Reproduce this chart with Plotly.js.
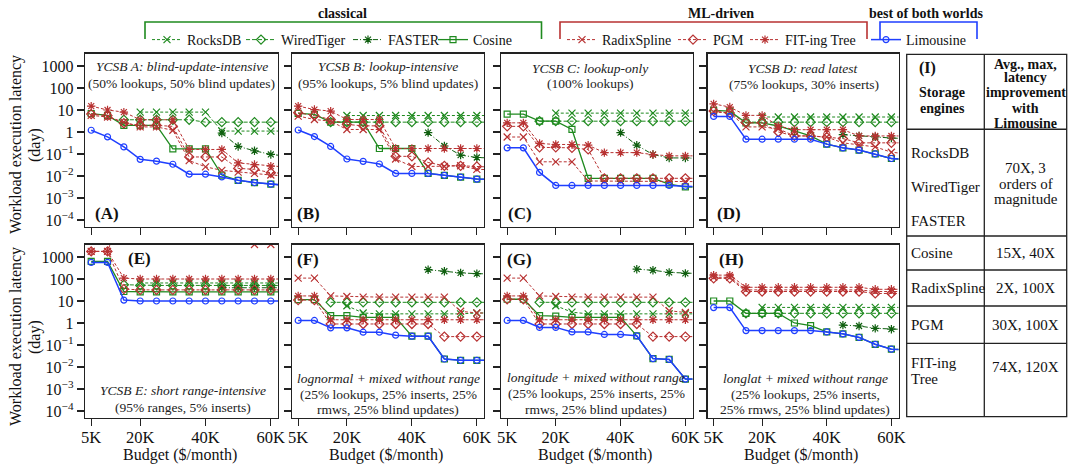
<!DOCTYPE html>
<html><head><meta charset="utf-8">
<script src="https://cdn.plot.ly/plotly-3.0.1.min.js"></script>
<style>html,body{margin:0;padding:0;background:#fff;}#chart{width:1073px;height:464px;}</style>
</head><body><div id="chart"></div>
<script>
// ---------- data ----------
const budgets = [5,10,15,20,25,30,35,40,45,50,55,60,65]; // $K/month
const xTickVals = [5,20,40,60];
const xTickText = ['5K','20K','40K','60K'];
const yTickVals = [1e-4,1e-3,1e-2,1e-1,1,10,100,1000];
const yTickText = ['10<sup>−4</sup>','10<sup>−3</sup>','10<sup>−2</sup>','10<sup>−1</sup>','1','10','100','1000'];
const seriesNames = ['RocksDB','WiredTiger','FASTER','Cosine','RadixSpline','PGM','FIT-ing Tree','Limousine'];

// Panel A
const A_RocksDB     = [null,null,null,8,8,8,8,8,1.1,1.1,1.1,1.1,1.1];
const A_WiredTiger  = [null,null,3.6,3.6,3.6,3.6,3.6,2.8,2.8,2.8,2.8,2.8,2.8];
const A_FASTER      = [null,null,null,null,null,null,null,null,0.9,0.22,0.14,0.095,0.08];
const A_Cosine      = [6.8,5.7,2.0,2.0,2.0,0.17,0.17,0.17,0.011,0.0063,0.005,0.0042,0.0037];
const A_RadixSpline = [5.7,4.8,2.8,1.7,1.7,1.2,0.05,0.026,0.018,0.015,0.013,0.011,0.010];
const A_PGM         = [6.5,5.5,2.5,2.0,2.0,1.8,0.073,0.073,0.073,0.022,0.02,0.014,0.013];
const A_FIT         = [15,10,8,3.6,3.6,3.6,0.16,0.16,0.16,0.039,0.033,0.028,0.025];
const A_Limousine   = [1.2,0.6,0.21,0.057,0.047,0.034,0.012,0.012,0.009,0.0063,0.005,0.0042,0.0037];
// Panel B
const B_RocksDB     = [null,null,null,5.6,5.6,5.6,5.6,5.6,5.6,5.6,5.6,5.6,5.6];
const B_WiredTiger  = [null,null,2.8,2.8,2.8,2.8,2.8,2.8,2.8,2.8,2.8,2.8,2.8];
const B_FASTER      = [null,null,null,null,null,null,null,null,0.93,0.23,0.089,0.069,0.065];
const B_Cosine      = [7,6.3,2.8,2.8,2.8,0.177,0.177,0.177,0.013,0.0107,0.0089,0.0072,0.007];
const B_RadixSpline = [5.3,3.7,3.1,1.3,1.3,1.3,0.059,0.027,0.027,0.027,0.029,0.02,0.019];
const B_PGM         = [7.5,5.6,3.7,2.2,1.9,1.9,0.078,0.078,0.041,0.029,0.029,0.027,0.025];
const B_FIT         = [15,10.5,8.9,3.7,3.7,3.7,0.177,0.177,0.177,0.177,0.177,0.177,0.177];
const B_Limousine   = [1.23,0.62,0.22,0.059,0.046,0.035,0.013,0.013,0.013,0.0107,0.0089,0.0072,0.007];
// Panel C
const C_RocksDB     = [null,null,null,7.2,7.2,7.2,7.2,7.2,7.2,7.2,7.2,7.2,7.2];
const C_WiredTiger  = [null,null,3.1,3.1,3.1,3.1,3.1,3.1,3.1,3.1,3.1,3.1,3.1];
const C_FASTER      = [null,null,null,null,null,null,null,0.93,0.25,0.094,0.066,0.066,0.062];
const C_Cosine      = [6.5,6.5,3.1,3.1,1.3,0.0078,0.0078,0.0078,0.0078,0.0078,0.0042,0.0032,0.003];
const C_RadixSpline = [0.59,0.59,0.044,0.044,0.044,0.0059,0.0059,0.0059,0.0059,0.0059,0.0059,0.0055,0.0055];
const C_PGM         = [1.8,1.8,0.2,0.2,0.19,0.16,0.0078,0.0078,0.0078,0.0078,0.0078,0.0078,0.0078];
const C_FIT         = [2.6,2.6,0.3,0.27,0.27,0.25,0.115,0.115,0.115,0.094,0.082,0.082,0.082];
const C_Limousine   = [0.19,0.19,0.0145,0.0037,0.0037,0.0037,0.0037,0.0037,0.0037,0.0037,0.0037,0.0034,0.0032];
// Panel D
const D_RocksDB     = [null,null,null,4.8,4.8,4.8,4.8,4.8,4.8,4.8,4.8,4.8,4.8];
const D_WiredTiger  = [null,null,2.8,2.8,2.8,2.8,2.8,2.8,2.8,2.8,2.8,2.8,2.8];
const D_FASTER      = [null,null,null,null,null,null,null,null,0.76,0.66,0.6,0.53,0.5];
const D_Cosine      = [9.6,8.9,2.6,2.6,1.87,1.07,0.66,0.28,0.19,0.15,0.1,0.062,0.056];
const D_RadixSpline = [8.1,7.3,1.7,1.7,1.4,0.66,0.66,0.59,0.32,0.25,0.21,0.12,0.1];
const D_PGM         = [9,7.3,2.6,2.6,1.0,0.66,0.66,0.59,0.5,0.32,0.32,0.32,0.32];
const D_FIT         = [19,13.6,5.7,5.7,1.87,1.27,1.27,1.27,1.27,0.66,0.66,0.66,0.66];
const D_Limousine   = [5.1,5.1,0.47,0.47,0.47,0.47,0.47,0.28,0.19,0.15,0.1,0.062,0.056];
// Panel E
const E_RocksDB     = [null,null,null,66,66,66,66,66,66,66,66,66,66];
const E_WiredTiger  = [null,null,55,51,51,51,51,51,51,51,51,51,51];
const E_FASTER      = [null,null,null,null,null,null,null,null,40,40,40,40,40];
const E_Cosine      = [630,630,27,26,26,26,26,26,26,26,26,26,26];
const E_RadixSpline = [1800,1800,2e5,2e5,2e5,2e5,2e5,2e5,2e5,2e5,3700,3700,3700];
const E_PGM         = [1800,1800,35,32,32,32,32,32,32,32,32,32,32];
const E_FIT         = [1800,1800,110,100,100,100,100,100,100,100,100,100,100];
const E_Limousine   = [570,570,11,10,10,10,10,10,10,10,10,10,10];
// Panel F
const F_RocksDB     = [null,null,null,6.1,2.85,2.6,2.6,2.6,2.6,2.6,2.6,2.85,2.85];
const F_WiredTiger  = [null,null,8.7,8.7,8.7,8.7,8.7,8.7,8.7,8.7,8.7,8.7,8.7];
const F_FASTER      = [null,null,null,null,null,null,null,null,265,225,190,175,170];
const F_Cosine      = [11.5,11.5,2.15,2.15,1.8,1.8,1.8,0.25,0.25,0.023,0.02,0.02,0.02];
const F_RadixSpline = [110,110,17,16,15,15,15,15,15,15,3.4,2.85,2.8];
const F_PGM         = [11,11,0.9,0.9,0.9,0.9,0.9,0.9,0.9,0.24,0.24,0.24,0.24];
const F_FIT         = [17,17,1.4,1.4,1.4,1.4,1.4,1.4,1.4,1.4,1.4,1.4,1.4];
const F_Limousine   = [1.3,1.3,0.6,0.6,0.38,0.38,0.28,0.25,0.25,0.023,0.02,0.02,0.02];
// Panel G
const G_RocksDB     = [null,null,null,6.1,3.1,2.6,2.6,2.6,2.6,2.6,2.6,2.6,2.6];
const G_WiredTiger  = [null,null,8.7,8.7,8.7,8.7,8.7,8.7,8.7,8.7,8.7,8.7,8.7];
const G_FASTER      = [null,null,null,null,null,null,null,null,280,250,200,180,175];
const G_Cosine      = [12,12,2.15,2.05,1.8,1.8,1.8,1.8,0.26,0.024,0.022,0.0028,0.0028];
const G_RadixSpline = [110,110,17,16,15,15,15,15,15,15,3.6,3.0,3.0];
const G_PGM         = [12,12,0.9,0.9,0.9,0.9,0.9,0.9,0.9,0.24,0.24,0.24,0.24];
const G_FIT         = [17,17,1.4,1.4,1.4,1.4,1.4,1.4,1.4,1.4,1.4,1.4,1.4];
const G_Limousine   = [1.3,1.3,0.63,0.63,0.39,0.39,0.3,0.3,0.26,0.024,0.022,0.0028,0.0028];
// Panel H
const H_RocksDB     = [null,null,null,5.1,5.1,5.1,5.1,5.1,5.1,5.1,5.1,5.1,5.1];
const H_WiredTiger  = [null,null,2.75,2.75,2.75,2.75,2.75,2.75,2.75,2.75,2.75,2.75,2.75];
const H_FASTER      = [null,null,null,null,null,null,null,null,0.8,0.73,0.57,0.52,0.5];
const H_Cosine      = [10,10,2.75,2.75,2.75,1.0,0.76,0.39,0.32,0.22,0.107,0.064,0.06];
const H_RadixSpline = [120,120,32,32,32,32,32,32,32,32,27,27,27];
const H_PGM         = [107,107,27,27,27,27,27,27,27,27,22,22,22];
const H_FIT         = [150,150,42,42,42,42,42,42,42,42,34,34,34];
const H_Limousine   = [5,5,0.45,0.45,0.45,0.45,0.45,0.39,0.32,0.22,0.107,0.064,0.06];

const panelData = {
  A:[A_RocksDB,A_WiredTiger,A_FASTER,A_Cosine,A_RadixSpline,A_PGM,A_FIT,A_Limousine],
  B:[B_RocksDB,B_WiredTiger,B_FASTER,B_Cosine,B_RadixSpline,B_PGM,B_FIT,B_Limousine],
  C:[C_RocksDB,C_WiredTiger,C_FASTER,C_Cosine,C_RadixSpline,C_PGM,C_FIT,C_Limousine],
  D:[D_RocksDB,D_WiredTiger,D_FASTER,D_Cosine,D_RadixSpline,D_PGM,D_FIT,D_Limousine],
  E:[E_RocksDB,E_WiredTiger,E_FASTER,E_Cosine,E_RadixSpline,E_PGM,E_FIT,E_Limousine],
  F:[F_RocksDB,F_WiredTiger,F_FASTER,F_Cosine,F_RadixSpline,F_PGM,F_FIT,F_Limousine],
  G:[G_RocksDB,G_WiredTiger,G_FASTER,G_Cosine,G_RadixSpline,G_PGM,G_FIT,G_Limousine],
  H:[H_RocksDB,H_WiredTiger,H_FASTER,H_Cosine,H_RadixSpline,H_PGM,H_FIT,H_Limousine]
};

// ---------- style ----------
const FONT = 'Liberation Serif, Times New Roman, serif';
const GREEN = '#1f8a1f', DKGREEN = '#0f5f0f', RED = '#b83232', BLUE = '#1f3fff', INK = '#222';
const styles = [
  {color:GREEN,   symbol:'x-thin-open',   dash:'3px,2px', width:1,   size:7},
  {color:GREEN,   symbol:'diamond-open',  dash:'4px,2px', width:1,   size:7},
  {color:DKGREEN, symbol:'asterisk-open', dash:'5px,2px,1px,2px', width:1, size:7},
  {color:GREEN,   symbol:'square-open',   dash:'solid',   width:1.3, size:6},
  {color:RED,     symbol:'x-thin-open',   dash:'3px,2px', width:1,   size:7},
  {color:RED,     symbol:'diamond-open',  dash:'3px,2px', width:1,   size:7},
  {color:RED,     symbol:'asterisk-open', dash:'3px,2px', width:1,   size:7},
  {color:BLUE,    symbol:'circle-open',   dash:'solid',   width:1.5, size:6}
];

const W = 1073, H = 464;
const px = v => v / W, py = v => 1 - v / H;
const colX = [[85,278],[292,484],[501,692.5],[707.5,898.5]];
const rowY = [[53.5,226.5],[244.5,417.5]];
const panels = ['A','B','C','D','E','F','G','H'];

const traces = [];
const layout = {
  width: W, height: H, margin:{l:0,r:0,t:0,b:0},
  paper_bgcolor:'#fff', plot_bgcolor:'#fff',
  font:{family:FONT, color:'#111'},
  showlegend:true, shapes:[], annotations:[]
};

panels.forEach((p, i) => {
  const row = i < 4 ? 0 : 1, col = i % 4;
  const n = i + 1, xa = n === 1 ? 'xaxis' : 'xaxis' + n, ya = n === 1 ? 'yaxis' : 'yaxis' + n;
  const xr = n === 1 ? 'x' : 'x' + n, yr = n === 1 ? 'y' : 'y' + n;
  layout[xa] = {
    domain:[px(colX[col][0]), px(colX[col][1])], anchor: yr,
    range:[3.1, 62.2], tickvals:xTickVals, ticktext:xTickText,
    showticklabels: row === 1, ticks:'outside', ticklen:7, tickwidth:1.2, tickcolor:INK,
    ticklabelstandoff:-3,
    showline:true, linecolor:INK, linewidth:1.3, mirror:true, showgrid:false, zeroline:false,
    tickfont:{family:FONT, size:16.5, color:'#111'}
  };
  layout[ya] = {
    domain:[py(rowY[row][1]), py(rowY[row][0])], anchor: xr, type:'log',
    range:[-4.3, 3.57], tickvals:yTickVals, ticktext:yTickText,
    showticklabels: col === 0, ticks:'outside', ticklen:7, tickwidth:1.2, tickcolor:INK,
    showline:true, linecolor:INK, linewidth:1.3, mirror:true, showgrid:false, zeroline:false,
    tickfont:{family:FONT, size:16, color:'#111'}
  };
  panelData[p].forEach((vals, s) => {
    const st = styles[s];
    traces.push({
      type:'scatter', mode:'lines+markers', x:budgets, y:vals, xaxis:xr, yaxis:yr,
      name:seriesNames[s], connectgaps:false,
      showlegend: i === 0, legend: s === 0 ? 'legend' : 'legend' + (s + 1),
      line:{color:st.color, dash:st.dash, width:st.width},
      marker:{symbol:st.symbol, size:st.size, color:st.color, line:{color:st.color, width:1.2}}
    });
  });
});

// ---------- legends (one per series) ----------
const legendOrigins = [147,241,348,433,562,673,745,866];
legendOrigins.forEach((ox, s) => {
  const key = s === 0 ? 'legend' : 'legend' + (s + 1);
  layout[key] = {
    x: px(ox), y: py(40), xanchor:'left', yanchor:'middle', orientation:'h',
    bgcolor:'rgba(0,0,0,0)', borderwidth:0, itemwidth:30,
    font:{family:FONT, size:14, color:'#111'}
  };
});

// group brackets + titles
const brackets = [[145,541.5,GREEN,'classical',342],[560,867,RED,'ML-driven',720.5],[880,977,BLUE,'best of both worlds',926.5]];
brackets.forEach(([a,b,c,t,cx]) => {
  layout.shapes.push({type:'path', xref:'paper', yref:'paper',
    path:`M${px(a)},${py(39)} L${px(a)},${py(22)} L${px(b)},${py(22)} L${px(b)},${py(39)}`,
    line:{color:c, width:1.6}});
  layout.annotations.push({xref:'paper', yref:'paper', x:px(cx), y:py(13), text:'<b>'+t+'</b>',
    showarrow:false, xanchor:'center', yanchor:'middle', font:{family:FONT, size:14, color:'#111'}});
});

// panel descriptions
const ann = (x, y, text, size, extra) => layout.annotations.push(Object.assign({xref:'paper', yref:'paper', x:px(x), y:py(y), text, showarrow:false, xanchor:'center', yanchor:'middle', font:{family:FONT, size, color:'#222'}}, extra || {}));
const descs = [
  [181.5, [67,83], ['<i>YCSB A: blind-update-intensive</i>','(50% lookups, 50% blind updates)']],
  [388, [67,83], ['<i>YCSB B: lookup-intensive</i>','(95% lookups, 5% blind updates)']],
  [590, [68.5,83.5], ['<i>YCSB C: lookup-only</i>','(100% lookups)']],
  [803.5, [68.5,84.5], ['<i>YCSB D: read latest</i>','(75% lookups, 30% inserts)']],
  [183, [390,407], ['<i>YCSB E: short range-intensive</i>','(95% ranges, 5% inserts)']],
  [388, [378,394,409.5], ['<i>lognormal + mixed without range</i>','(25% lookups, 25% inserts, 25%','rmws, 25% blind updates)']],
  [596, [377,393,409], ['<i>longitude + mixed without range</i>','(25% lookups, 25% inserts, 25%','rmws, 25% blind updates)']],
  [805, [378,394,409.5], ['<i>longlat + mixed without range</i>','(25% lookups, 25% inserts,','25% rmws, 25% blind updates)']]
];
descs.forEach(([x, ys, lines]) => lines.forEach((t, k) => ann(x, ys[k], t, 13.5)));

// panel letters
const letters = [['(A)',106.5,213],['(B)',308.5,213],['(C)',519.5,213],['(D)',728.5,213],
                 ['(E)',140,258],['(F)',307.5,259],['(G)',519.5,259],['(H)',731.5,259]];
letters.forEach(([t,x,y]) => ann(x, y, '<b>'+t+'</b>', 17, {font:{family:FONT,size:17,color:'#111'}}));

// axis titles
[145, 337].forEach(cy => {
  ann(16, cy, 'Workload execution latency', 16, {textangle:-90, font:{family:FONT,size:16,color:'#111'}});
  ann(35, cy, '(day)', 16, {textangle:-90, font:{family:FONT,size:16,color:'#111'}});
});
colX.forEach(([a,b]) => ann((a+b)/2 - 2, 455, 'Budget ($/month)', 16, {font:{family:FONT,size:16,color:'#111'}}));

// ---------- table (I) ----------
const tL = 906.7, tM = 984.3, tR = 1066.7, tT = 54.3, tB = 416.7;
const tLine = (x0,y0,x1,y1,w) => layout.shapes.push({type:'line', xref:'paper', yref:'paper', x0:px(x0), y0:py(y0), x1:px(x1), y1:py(y1), line:{color:'#222', width:w||1.3}});
layout.shapes.push({type:'rect', xref:'paper', yref:'paper', x0:px(tL), x1:px(tR), y0:py(tB), y1:py(tT), line:{color:'#222', width:1.3}});
tLine(tM, tT, tM, tB);
[129.3, 236, 270, 306, 343.3].forEach(y => tLine(tL, y, tR, y, y === 129.3 ? 1.6 : 1.3));
const tcell = (x, y, t, anchor, bold, size) => layout.annotations.push({xref:'paper', yref:'paper', x:px(x), y:py(y),
  text: bold ? '<b>'+t+'</b>' : t, showarrow:false, xanchor:anchor, yanchor:'middle', font:{family:FONT, size, color:'#111'}});
tcell(917, 68, '(I)', 'left', true, 16);
tcell(942, 92.7, 'Storage', 'center', true, 14);
tcell(942, 108.3, 'engines', 'center', true, 14);
[['Avg., max,',64],['latency',77.5],['improvement',92.7],['with',108.3],['Limousine',123.5]].forEach(([t,y]) => tcell(1025.5, y, t, 'center', true, 14));
[['RocksDB',152.7],['WiredTiger',186.7],['FASTER',220.7],['Cosine',253.3],['RadixSpline',288.3],['PGM',325],['FIT-ing',362.7],['Tree',379.3]].forEach(([t,y]) => tcell(908.5, y, t, 'left', false, 15));
[['70X, 3',168.3],['orders of',183.5],['magnitude',199.3],['15X, 40X',253.3],['2X, 100X',288.3],['30X, 100X',325],['74X, 120X',366.7]].forEach(([t,y]) => tcell(1025.5, y, t, 'center', false, 15));

Plotly.newPlot('chart', traces, layout, {displayModeBar:false, staticPlot:true});
</script></body></html>
